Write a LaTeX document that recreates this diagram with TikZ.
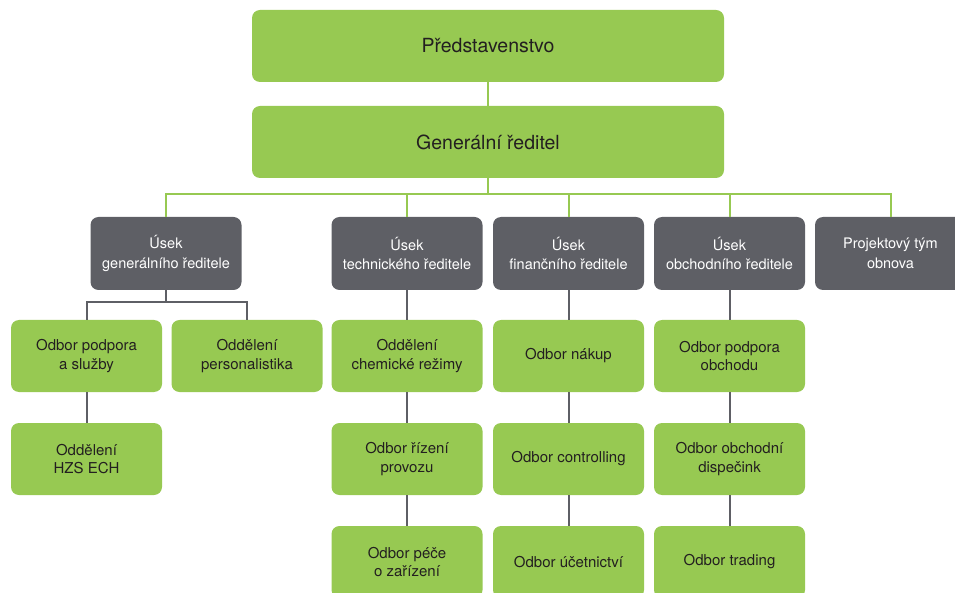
\documentclass[tikz,border=0pt]{standalone}
\usepackage{fontspec}
\setmainfont{TeX Gyre Heros}
\definecolor{boxgreen}{RGB}{151,201,82}
\definecolor{boxgray}{RGB}{94,95,101}
\definecolor{txtdark}{RGB}{35,31,32}
\begin{document}
\begin{tikzpicture}[x=1pt,y=-1pt,
  base/.style={rounded corners=8pt, inner sep=0pt, align=center, minimum width=151pt, minimum height=72pt},
  topbox/.style={base, fill=boxgreen, text=txtdark, minimum width=472pt, font=\fontsize{19.5}{23}\selectfont},
  grbox/.style={base, fill=boxgreen, text=txtdark, font=\fontsize{15}{18.5}\selectfont},
  gybox/.style={base, fill=boxgray, minimum height=73pt, text=white, font=\fontsize{14.5}{19.5}\selectfont},
  gline/.style={draw=boxgreen, line width=2pt},
  kline/.style={draw=boxgray, line width=2pt}]
\useasboundingbox (0,0) rectangle (955,593);
% connectors first (behind boxes)
\coordinate (bus) at (488,194);
\coordinate (gbus) at (166,302.5);
% top
\node[topbox] (board) at (488,46) {Představenstvo};
\node[topbox] (gd) at (488,142) {Generální ředitel};
% divisions
\node[gybox] (uA) at (166,253.5) {Úsek\\generálního ředitele};
\node[gybox] (uB) at (407,253.5) {Úsek\\technického ředitele};
\node[gybox] (uC) at (568.5,253.5) {Úsek\\finančního ředitele};
\node[gybox] (uD) at (729.5,253.5) {Úsek\\obchodního ředitele};
\node[gybox] (uE) at (890.5,253.5) {Projektový tým\\obnova};
% row 1
\node[grbox] (a1) at (86.5,356) {Odbor podpora\\a služby};
\node[grbox] (b1) at (247,356) {Oddělení\\personalistika};
\node[grbox] (c1) at (407,356) {Oddělení\\chemické režimy};
\node[grbox] (d1) at (568.5,356) {Odbor nákup};
\node[grbox] (e1) at (729.5,356) {Odbor podpora\\obchodu};
% row 2
\node[grbox] (a2) at (86.5,459) {Oddělení\\HZS ECH};
\node[grbox] (c2) at (407,459) {Odbor řízení\\provozu};
\node[grbox] (d2) at (568.5,459) {Odbor controlling};
\node[grbox] (e2) at (729.5,459) {Odbor obchodní\\dispečink};
% row 3
\node[grbox] (c3) at (407,562) {Odbor péče\\o zařízení};
\node[grbox] (d3) at (568.5,562) {Odbor účetnictví};
\node[grbox] (e3) at (729.5,562) {Odbor trading};
% green connectors
\draw[gline] (board.south) -- (gd.north);
\draw[gline] (gd.south) -- (bus);
\draw[gline] (uA.north) -- (uA.north |- bus) -- (uE.north |- bus) -- (uE.north);
\draw[gline] (uB.north) -- (uB.north |- bus);
\draw[gline] (uC.north) -- (uC.north |- bus);
\draw[gline] (uD.north) -- (uD.north |- bus);
% gray connectors
\draw[kline] (uA.south) -- (gbus);
\draw[kline] (a1.north) |- (gbus) -| (b1.north);
\draw[kline] (a1) -- (a2);
\draw[kline] (uB) -- (c1);
\draw[kline] (c1) -- (c2);
\draw[kline] (c2) -- (c3);
\draw[kline] (uC) -- (d1);
\draw[kline] (d1) -- (d2);
\draw[kline] (d2) -- (d3);
\draw[kline] (uD) -- (e1);
\draw[kline] (e1) -- (e2);
\draw[kline] (e2) -- (e3);
\end{tikzpicture}
\end{document}
